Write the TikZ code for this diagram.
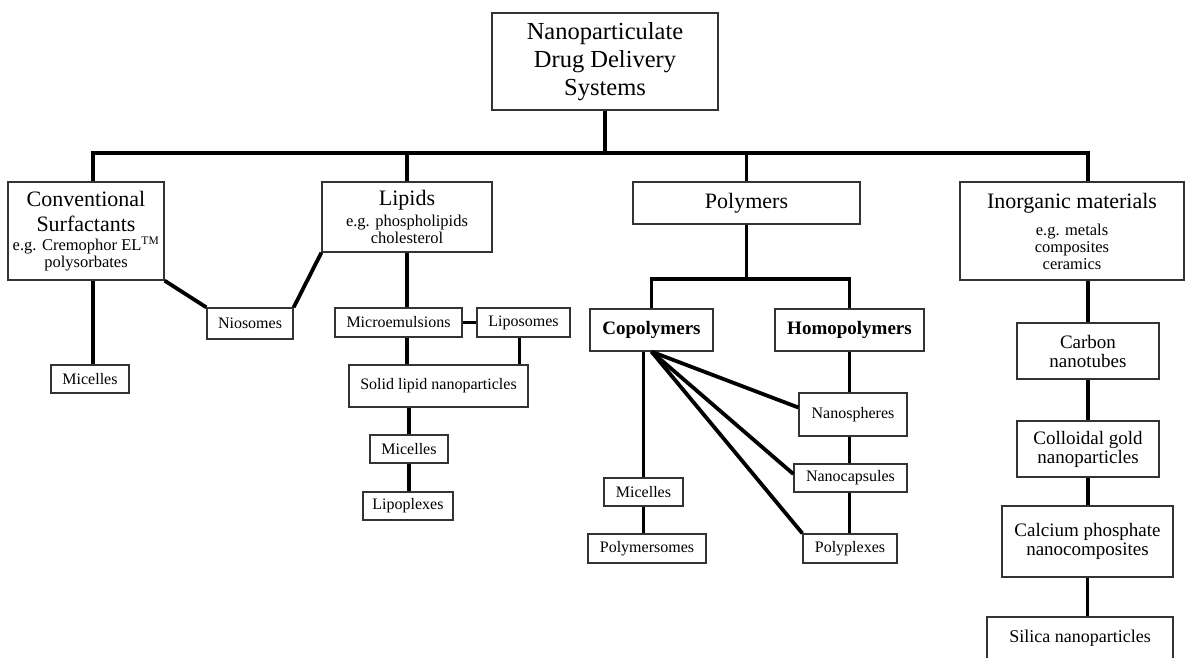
\documentclass[tikz,border=0pt]{standalone}
\usepackage{fontspec}
\setmainfont{Liberation Serif}
\newcommand{\hdfont}{\fontsize{22}{25}\selectfont}
\newcommand{\egfont}{\fontsize{16.5}{17}\selectfont}

\begin{document}
\begin{tikzpicture}[
  x=1pt, y=-1pt,
  box/.style={rectangle, draw=black!80, line width=1.3pt, inner sep=0pt,
    align=center, font=\fontsize{16}{19}\selectfont},
  mid/.style={box, font=\fontsize{19}{19}\selectfont},
  head/.style={box, font=\egfont},
  link/.style={line width=3.8pt},
  ]
  \clip (0,0) rectangle (1185,657);
  \fill [white] (0,0) rectangle (1185,657);

  % top
  \node [box, minimum width=226pt, minimum height=97pt, font=\fontsize{24.5}{28}\selectfont] (title) at (605,61.5) {Nanoparticulate\\ Drug Delivery\\ Systems};
  \coordinate (bus) at (605,153);

  % surfactants
  \node [head, minimum width=156pt, minimum height=98pt] (conv) at (86,231)
    {\hdfont Conventional\\[8pt] \hdfont Surfactants\\[2pt] e.g. Cremophor EL\textsuperscript{TM}\\ polysorbates};
  \node [box, minimum width=78pt, minimum height=28pt] (mic1) at (90,379) {Micelles};
  \node [box, minimum width=86pt, minimum height=31pt] (nio) at (250,323.5) {Niosomes};

  % lipids
  \node [head, minimum width=170pt, minimum height=70pt] (lipids) at (407,217)
    {\hdfont Lipids\\[4pt] e.g. phospholipids\\ cholesterol};
  \node [box, minimum width=127pt, minimum height=29pt] (micro) at (398.5,322.5) {Microemulsions};
  \node [box, minimum width=93pt, minimum height=29pt] (lipo) at (523.5,322.5) {Liposomes};
  \node [box, minimum width=179pt, minimum height=42pt] (solid) at (438.5,386) {Solid lipid nanoparticles};
  \node [box, minimum width=78pt, minimum height=28pt] (mic2) at (409,449) {Micelles};
  \node [box, minimum width=90pt, minimum height=28pt] (lipoplex) at (408,506) {Lipoplexes};

  % polymers
  \node [box, minimum width=227pt, minimum height=42pt, font=\hdfont] (poly) at (746.5,203) {Polymers};
  \node [mid, minimum width=123pt, minimum height=42pt, font=\fontsize{19}{19}\selectfont\bfseries] (copoly) at (651.5,330) {Copolymers};
  \node [mid, minimum width=149pt, minimum height=42pt, font=\fontsize{19}{19}\selectfont\bfseries] (homo) at (849.5,330) {Homopolymers};
  \node [box, minimum width=108pt, minimum height=43pt] (nanosph) at (853,414.5) {Nanospheres};
  \node [box, minimum width=113pt, minimum height=28pt] (nanocap) at (850.5,478) {Nanocapsules};
  \node [box, minimum width=94pt, minimum height=29pt] (polyplex) at (850,548.5) {Polyplexes};
  \node [box, minimum width=79pt, minimum height=28pt] (mic3) at (643.5,492) {Micelles};
  \node [box, minimum width=118pt, minimum height=29pt] (polysome) at (647,548.5) {Polymersomes};

  % inorganic
  \node [head, minimum width=224pt, minimum height=98pt] (inorg) at (1072,231)
    {\hdfont Inorganic materials\\[10pt] e.g. metals\\ composites\\ ceramics};
  \node [mid, minimum width=142pt, minimum height=56pt] (carbon) at (1088,351) {Carbon\\ nanotubes};
  \node [mid, minimum width=142pt, minimum height=56pt] (gold) at (1088,449) {Colloidal gold\\ nanoparticles};
  \node [mid, minimum width=171pt, minimum height=71pt] (calcium) at (1087.5,541.5) {Calcium phosphate\\ nanocomposites};
  \node [mid, minimum width=186pt, minimum height=42pt, font=\fontsize{18}{19}\selectfont] (silica) at (1080,638) {Silica nanoparticles};

  % tree
  \draw [link] (title.south) -- (bus);
  \draw [link] ([xshift=7pt]conv.north) |- (bus) -| ([xshift=16pt]inorg.north);
  \draw [link] (lipids.north) -- (lipids.north |- bus);
  \draw [link] (poly.north) -- (poly.north |- bus);

  \draw [link] ([xshift=7pt]conv.south) -- ([xshift=7pt]conv.south |- mic1.north);
  \draw [link] (conv.south east) -- (nio.north west);
  \draw [link] (nio.north east) -- (lipids.south west);

  \draw [link] (lipids.south) -- (lipids.south |- micro.north);
  \draw [link] (micro.east) -- (lipo.west);
  \draw [link] (lipids.south |- micro.south) -- (lipids.south |- solid.north);
  \draw [link] ([xshift=-4pt]lipo.south) -- ([xshift=-4pt]lipo.south |- solid.north);
  \draw [link] (mic2.north |- solid.south) -- (mic2.north);
  \draw [link] (mic2.south) -- (mic2.south |- lipoplex.north);

  \draw [link] (poly.south) -- (poly.south |- 0,279);
  \draw [link] (copoly.north) |- (poly.south |- 0,279) -| (homo.north);
  \draw [link] (mic3.north |- copoly.south) -- (mic3.north);
  \draw [link] (mic3.south) -- (mic3.south |- polysome.north);
  \draw [link] (copoly.south) -- ([yshift=7pt]nanosph.west);
  \draw [link] (copoly.south) -- ([yshift=4pt]nanocap.west);
  \draw [link] (copoly.south) -- (polyplex.north west);
  \draw [link] (homo.south) -- (homo.south |- nanosph.north);
  \draw [link] (homo.south |- nanosph.south) -- (homo.south |- nanocap.north);
  \draw [link] (homo.south |- nanocap.south) -- (homo.south |- polyplex.north);

  \draw [link] ([xshift=16pt]inorg.south) -- (carbon.north);
  \draw [link] (carbon.south) -- (gold.north);
  \draw [link] (gold.south) -- (gold.south |- calcium.north);
  \draw [link] (calcium.south) -- (calcium.south |- silica.north);
\end{tikzpicture}
\end{document}
